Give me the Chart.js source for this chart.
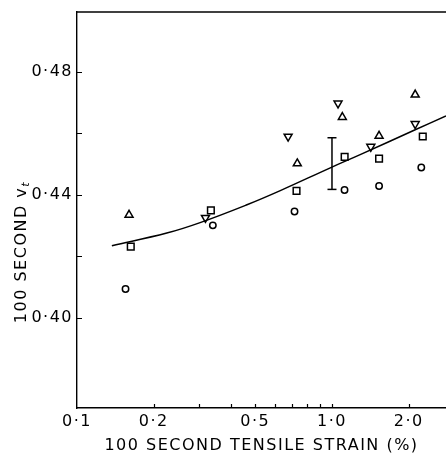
<!DOCTYPE html>
<html><head><meta charset="utf-8">
<script src="https://cdn.jsdelivr.net/npm/chart.js@4/dist/chart.umd.min.js"></script>
<style>html,body{margin:0;padding:0;background:#fff}#wrap{width:446px;height:455px}</style>
</head><body><div id="wrap"><canvas id="c" width="446" height="455"></canvas></div>
<script>
// Tick values and labels
const xTickValues = [0.1, 0.2, 0.5, 1.0, 2.0];
const xTickLabels = ['0·1', '0·2', '0·5', '1·0', '2·0'];
const xMinorTicks = [0.2, 0.3, 0.4, 0.5, 0.6, 0.7, 0.8, 0.9, 1.0, 2.0];
const yTickValues = [0.40, 0.44, 0.48];
const yTickLabels = ['0·40', '0·44', '0·48'];
const yMinorTicks = [0.40, 0.42, 0.44, 0.46, 0.48];

// Series (x = 100 s tensile strain %, y = 100 s v_t)
const upTriX = [0.160, 0.731, 1.098, 1.53, 2.12];
const upTriY = [0.4335, 0.4502, 0.4653, 0.4592, 0.4726];
const downTriX = [0.319, 0.673, 1.056, 1.42, 2.12];
const downTriY = [0.4326, 0.4590, 0.4698, 0.4557, 0.4631];
const squareX = [0.1625, 0.335, 0.726, 1.121, 1.53, 2.27];
const squareY = [0.4232, 0.4350, 0.4413, 0.4524, 0.4518, 0.4590];
const circleX = [0.155, 0.341, 0.713, 1.12, 1.53, 2.24];
const circleY = [0.4094, 0.4301, 0.4346, 0.4416, 0.4429, 0.4489];
const curveX = [0.137, 0.225, 0.304, 0.464, 0.627, 0.99, 1.29, 2.12, 2.8];
const curveY = [0.4235, 0.4276, 0.4310, 0.4368, 0.4414, 0.4489, 0.4531, 0.4612, 0.4657];
const errX = [1.0, 1.0];
const errY = [0.4418, 0.4586];

const xAxisTitle = '100 SECOND TENSILE STRAIN (%)';
const yAxisTitleMain = '100 SECOND v';
const yAxisTitleSub = 't';

const FONT = 'DejaVu Sans';
const pts = (xs, ys) => xs.map((x, i) => ({x, y: ys[i]}));

const spacingPlugin = {
  id: 'spacing',
  beforeLayout(chart) { chart.ctx.letterSpacing = '1.5px'; },
  beforeDraw(chart) { chart.ctx.letterSpacing = '1.5px'; }
};

const framePlugin = {
  id: 'frame',
  afterDraw(chart) {
    const {ctx, chartArea: a, scales: {x, y}} = chart;
    ctx.save();
    ctx.strokeStyle = '#000';
    ctx.lineWidth = 1.4;
    ctx.beginPath();
    ctx.moveTo(a.left, a.top);
    ctx.lineTo(a.right, a.top);
    ctx.stroke();
    ctx.lineWidth = 1.2;
    ctx.beginPath();
    xMinorTicks.forEach(v => {
      const px = Math.round(x.getPixelForValue(v)) + 0.5;
      ctx.moveTo(px, a.bottom);
      ctx.lineTo(px, a.bottom - 4);
    });
    yMinorTicks.forEach(v => {
      const py = Math.round(y.getPixelForValue(v)) + 0.5;
      ctx.moveTo(a.left, py);
      ctx.lineTo(a.left + 5, py);
    });
    ctx.stroke();
    // y-axis title with subscript
    ctx.letterSpacing = '1.5px';
    ctx.fillStyle = '#000';
    ctx.translate(25.5, 252);
    ctx.rotate(-Math.PI / 2);
    ctx.font = '16px "' + FONT + '"';
    const w1 = ctx.measureText(yAxisTitleMain).width;
    ctx.font = 'italic 11px "' + FONT + '"';
    const w2 = ctx.measureText(yAxisTitleSub).width;
    const start = -(w1 + w2) / 2;
    ctx.textBaseline = 'alphabetic';
    ctx.textAlign = 'left';
    ctx.font = '16px "' + FONT + '"';
    ctx.fillText(yAxisTitleMain, start, 0);
    ctx.font = 'italic 11px "' + FONT + '"';
    ctx.fillText(yAxisTitleSub, start + w1, 3);
    ctx.restore();
  }
};

const marker = (data, style, rot, radius) => ({
  data, pointStyle: style, rotation: rot, pointRadius: radius,
  borderColor: '#000', backgroundColor: 'rgba(0,0,0,0)', pointBorderWidth: 1.5,
  borderWidth: 1.5, showLine: false
});

new Chart(document.getElementById('c'), {
  type: 'scatter',
  data: {
    datasets: [
      {data: pts(curveX, curveY), showLine: true, pointRadius: 0, borderColor: '#000',
       borderWidth: 1.5, tension: 0.4, fill: false},
      {data: pts(errX, errY), showLine: true, pointStyle: 'line', pointRadius: 4.5,
       borderColor: '#000', borderWidth: 1.5, pointBorderWidth: 1.5, rotation: 0},
      marker(pts(upTriX, upTriY), 'triangle', 0, 4.6),
      marker(pts(downTriX, downTriY), 'triangle', 180, 4.6),
      marker(pts(squareX, squareY), 'rect', 0, 4.7),
      marker(pts(circleX, circleY), 'circle', 0, 3.2)
    ]
  },
  options: {
    responsive: false, animation: false, devicePixelRatio: 1,
    layout: {autoPadding: false, padding: {top: 12, left: 0, right: 0, bottom: 0}},
    plugins: {legend: {display: false}, tooltip: {enabled: false}},
    scales: {
      x: {
        type: 'logarithmic', min: 0.1, max: 2.8,
        afterBuildTicks: s => { s.ticks = xTickValues.map(v => ({value: v})); },
        afterFit: s => { s.height = 47; s.paddingRight = 0; s.paddingLeft = 0; },
        grid: {display: false, drawTicks: false},
        border: {display: true, color: '#000', width: 1.4},
        ticks: {color: '#000', padding: 4, maxRotation: 0, autoSkip: false,
                font: {family: FONT, size: 16},
                callback: (v, i) => xTickLabels[i]},
        title: {display: true, text: xAxisTitle, color: '#000', padding: 0,
                font: {family: FONT, size: 16}}
      },
      y: {
        min: 0.3707, max: 0.4995,
        afterBuildTicks: s => { s.ticks = yTickValues.map(v => ({value: v})); },
        afterFit: s => { s.width = 77; s.paddingTop = 0; s.paddingBottom = 0; },
        grid: {display: false, drawTicks: false},
        border: {display: true, color: '#000', width: 1.4},
        ticks: {color: '#000', padding: 4, font: {family: FONT, size: 16},
                callback: (v, i) => yTickLabels[i]}
      }
    }
  },
  plugins: [spacingPlugin, framePlugin]
});
</script>
</body></html>
